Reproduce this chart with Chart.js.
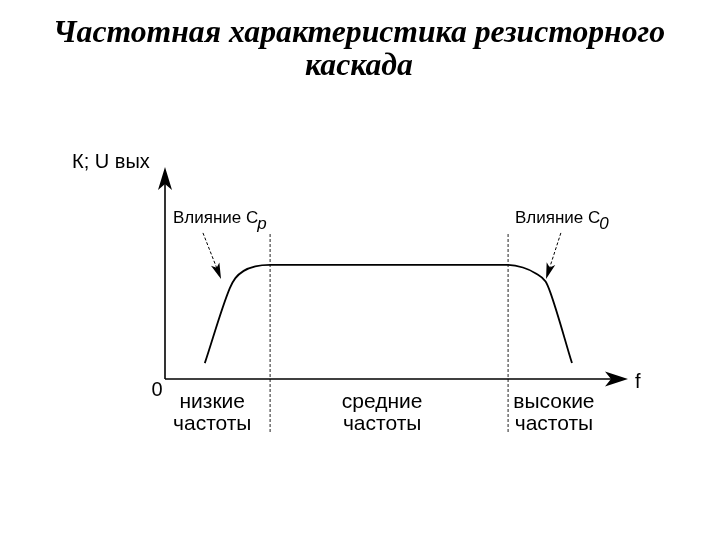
<!DOCTYPE html>
<html><head><meta charset="utf-8">
<script src="https://cdn.jsdelivr.net/npm/chart.js@4/dist/chart.umd.min.js"></script>
<style>html,body{margin:0;padding:0;background:#fff}#wrap{width:720px;height:540px}</style>
</head><body><div id="wrap"><canvas id="c" width="720" height="540"></canvas></div>
<script>
// Title
const titleLines = ["Частотная характеристика резисторного", "каскада"];
// Frequency response curve (relative units: f 0..100, K 0..100)
const curveF = [8.6, 14.0, 15.2, 17.0, 19.5, 22.7, 74.1, 77.3, 80.1, 82.2, 83.2, 87.9];
const curveK = [7.5, 42.9, 47.6, 51.0, 53.1, 53.8, 53.8, 52.6, 49.8, 46.0, 41.0, 7.5];
// Band boundaries (dashed verticals)
const boundaryF = [22.7, 74.1];
const boundaryK = [-25, 69];
// Frequency band labels and their centres on the f axis
const bandLabels = [["низкие", "частоты"], ["средние", "частоты"], ["высокие", "частоты"]];
const bandCenters = [10.2, 46.9, 84.0];
// Annotations: text, subscript, arrow start (f,K) and arrow tip (f,K)
const noteText = ["Влияние C", "Влияние C"];
const noteSub = ["p", "0"];
const noteFrom = [[8.2, 68.9], [85.5, 68.9]];
const noteTo = [[12.1, 47.2], [82.3, 47.2]];
const axisLabels = {y: "К; U вых", x: "f", origin: "0"};

const pts = curveF.map((f, i) => ({x: f, y: curveK[i]}));
const boundarySets = boundaryF.map(f => ({
  data: boundaryK.map(k => ({x: f, y: k})),
  borderColor: '#222', borderWidth: 1, borderDash: [3, 2], pointRadius: 0, showLine: true, clip: false, tension: 0
}));

function arrowHead(ctx, tx, ty, ang, len, hw, notch) {
  const dx = Math.cos(ang), dy = Math.sin(ang);
  const px = -dy, py = dx;
  ctx.beginPath();
  ctx.moveTo(tx, ty);
  ctx.lineTo(tx - len * dx + hw * px, ty - len * dy + hw * py);
  ctx.lineTo(tx - (len - notch) * dx, ty - (len - notch) * dy);
  ctx.lineTo(tx - len * dx - hw * px, ty - len * dy - hw * py);
  ctx.closePath();
  ctx.fill();
}

const drawPlugin = {
  id: 'draw',
  afterDatasetsDraw(chart) {
    const ctx = chart.ctx, xs = chart.scales.x, ys = chart.scales.y;
    ctx.save();
    ctx.fillStyle = '#000'; ctx.strokeStyle = '#000';
    const x0 = xs.getPixelForValue(0), y0 = ys.getPixelForValue(0);
    const xEnd = xs.getPixelForValue(100), yEnd = ys.getPixelForValue(100);
    // axes
    ctx.lineWidth = 1.6;
    ctx.beginPath(); ctx.moveTo(x0, y0); ctx.lineTo(xEnd - 10, y0); ctx.stroke();
    ctx.beginPath(); ctx.moveTo(x0, y0); ctx.lineTo(x0, yEnd + 10); ctx.stroke();
    arrowHead(ctx, xEnd, y0, 0, 23, 7.5, 6);
    arrowHead(ctx, x0, yEnd, -Math.PI / 2, 23, 7, 6);
    // annotation arrows
    ctx.lineWidth = 1;
    for (let i = 0; i < noteFrom.length; i++) {
      const ax = xs.getPixelForValue(noteFrom[i][0]), ay = ys.getPixelForValue(noteFrom[i][1]);
      const bx = xs.getPixelForValue(noteTo[i][0]), by = ys.getPixelForValue(noteTo[i][1]);
      const ang = Math.atan2(by - ay, bx - ax);
      ctx.setLineDash([3, 2]);
      ctx.beginPath(); ctx.moveTo(ax, ay); ctx.lineTo(bx - 10 * Math.cos(ang), by - 10 * Math.sin(ang)); ctx.stroke();
      ctx.setLineDash([]);
      arrowHead(ctx, bx, by, ang, 16, 4.5, 4);
    }
    // annotation text
    ctx.textBaseline = 'middle'; ctx.textAlign = 'left';
    const noteX = [173, 515];
    for (let i = 0; i < noteText.length; i++) {
      ctx.font = '17px "Liberation Sans", Arial, sans-serif';
      ctx.fillText(noteText[i], noteX[i], 218);
      const w = ctx.measureText(noteText[i]).width;
      ctx.font = 'italic 17px "Liberation Sans", Arial, sans-serif';
      ctx.fillText(noteSub[i], noteX[i] + w - 1, 224);
    }
    // axis labels
    ctx.font = '20px "Liberation Sans", Arial, sans-serif';
    ctx.textAlign = 'left';
    ctx.fillText(axisLabels.y, 72, 162);
    ctx.fillText(axisLabels.x, xEnd + 7, y0 + 3);
    ctx.textAlign = 'center';
    ctx.fillText(axisLabels.origin, x0 - 8, y0 + 11);
    // band labels
    ctx.font = '21px "Liberation Sans", Arial, sans-serif';
    bandLabels.forEach((lines, i) => {
      const cx = xs.getPixelForValue(bandCenters[i]);
      lines.forEach((t, j) => ctx.fillText(t, cx, y0 + 23 + j * 22));
    });
    // title (sized to span the same width as the reference heading)
    ctx.font = 'italic bold 30px "Liberation Serif", serif';
    const tw = ctx.measureText(titleLines[0]).width;
    const fs = Math.min(34, 30 * 613 / tw);
    ctx.font = 'italic bold ' + fs.toFixed(1) + 'px "Liberation Serif", serif';
    ctx.textBaseline = 'alphabetic';
    titleLines.forEach((t, j) => ctx.fillText(t, 359, 42 + j * 33));
    ctx.restore();
  }
};

new Chart(document.getElementById('c'), {
  type: 'scatter',
  data: {
    datasets: [
      {data: pts, showLine: true, borderColor: '#000', borderWidth: 1.8, pointRadius: 0, cubicInterpolationMode: 'monotone', fill: false},
      ...boundarySets
    ]
  },
  options: {
    responsive: false, animation: false, devicePixelRatio: 1,
    layout: {padding: {left: 165, right: 92, top: 167, bottom: 161}},
    scales: {
      x: {type: 'linear', min: 0, max: 100, display: false},
      y: {type: 'linear', min: 0, max: 100, display: false}
    },
    plugins: {legend: {display: false}, tooltip: {enabled: false}, title: {display: false}}
  },
  plugins: [drawPlugin]
});
</script>
</body></html>
